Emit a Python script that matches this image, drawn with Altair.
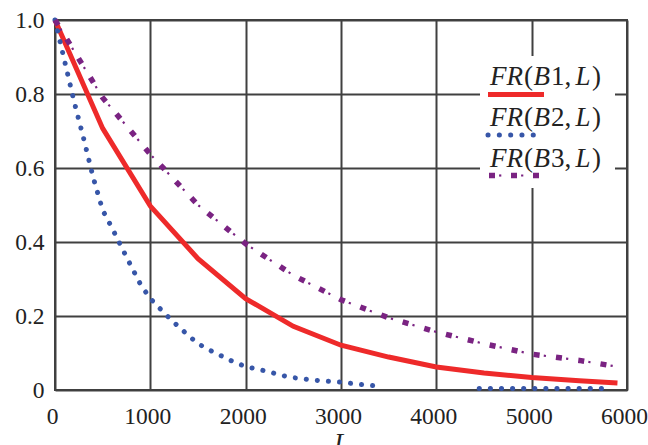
import altair as alt
import pandas as pd

# ---------------- data ----------------
L_B1 = [0, 500, 1000, 1500, 2000, 2500, 3000, 3500, 4000, 4500, 5000, 5500, 5900]
FR_B1 = [1.0, 0.707, 0.497, 0.355, 0.247, 0.172, 0.121, 0.089, 0.062, 0.046, 0.034, 0.025, 0.019]

L_B2_A = [0, 100, 200, 300, 400, 500, 600, 700, 800, 900, 1000, 1150, 1300, 1500,
          1650, 1850, 2000, 2200, 2450, 2700, 3000, 3200, 3420]
FR_B2_A = [1.0, 0.89, 0.78, 0.68, 0.575, 0.486, 0.437, 0.385, 0.334, 0.284, 0.247,
           0.207, 0.17, 0.125, 0.104, 0.079, 0.063, 0.052, 0.035, 0.027, 0.021, 0.015, 0.01]
L_B2_B = [4450, 5750]
FR_B2_B = [0.004, 0.004]

L_B3 = [0, 500, 1000, 1500, 2000, 2500, 3000, 3500, 4000, 4500, 5000, 5500, 5900]
FR_B3 = [1.0, 0.79, 0.637, 0.50, 0.395, 0.31, 0.244, 0.195, 0.157, 0.125, 0.097, 0.08, 0.063]

X_TICKS = [0, 1000, 2000, 3000, 4000, 5000, 6000]
Y_TICKS = [0, 0.2, 0.4, 0.6, 0.8, 1.0]
SERIES_NUM = ["1", "2", "3"]

# ---------------- styling ----------------
FONT = "Liberation Serif"
TXT = "#222222"
GRID = "#404040"
RED = "#EE2A2A"
BLUE = "#3756A8"
PURPLE = "#7A2382"
PAD_L, PAD_T = 55, 20

df1 = pd.DataFrame({"L": L_B1, "FR": FR_B1})
df2 = pd.DataFrame({
    "L": L_B2_A + L_B2_B,
    "FR": FR_B2_A + FR_B2_B,
    "seg": ["a"] * len(L_B2_A) + ["b"] * len(L_B2_B),
})
df3 = pd.DataFrame({"L": L_B3, "FR": FR_B3})

x_enc = alt.X(
    "L:Q",
    scale=alt.Scale(domain=[0, 6000], nice=False),
    axis=alt.Axis(
        values=X_TICKS, format="d", title="L", titleFont=FONT, titleFontSize=26,
        titleFontStyle="italic", titleFontWeight="normal", titleColor=TXT,
        titlePadding=2, labelFont=FONT, labelFontSize=23.5, labelColor=TXT,
        labelPadding=14, labelOffset=-3, ticks=False, tickSize=0, domain=False,
        grid=True, gridColor=GRID, gridWidth=2, gridOpacity=1, labelFlush=False,
    ),
)
y_enc = alt.Y(
    "FR:Q",
    scale=alt.Scale(domain=[0, 1], nice=False),
    axis=alt.Axis(
        values=Y_TICKS, title=None, labelFont=FONT, labelFontSize=23.5,
        labelColor=TXT, labelPadding=11, ticks=False, tickSize=0, domain=False,
        grid=True, gridColor=GRID, gridWidth=2, gridOpacity=1, labelFlush=False,
        labelExpr="datum.value == 0 ? '0' : format(datum.value, '.1f')",
    ),
)

red = alt.Chart(df1).mark_line(color=RED, strokeWidth=5).encode(x=x_enc, y=y_enc)
blue = alt.Chart(df2).mark_line(
    color=BLUE, strokeWidth=5, strokeDash=[0.1, 11], strokeCap="round"
).encode(x="L:Q", y="FR:Q", detail="seg:N")
purple_sq = alt.Chart(df3).mark_line(
    color=PURPLE, strokeWidth=5.5, strokeDash=[6, 16.5]
).encode(x="L:Q", y="FR:Q")
purple_dot = alt.Chart(df3).mark_line(
    color=PURPLE, strokeWidth=2.2, strokeDash=[2.2, 20.3], strokeDashOffset=12.3
).encode(x="L:Q", y="FR:Q")


def px(v):
    return alt.value(v - PAD_L)


def py(v):
    return alt.value(v - PAD_T)


# ---------------- legend (drawn by hand, label above its line sample) ----------------
dummy = pd.DataFrame({"a": [0]})
legend_layers = [
    alt.Chart(dummy).mark_rect(color="white").encode(
        x=px(480), x2=px(615), y=py(56), y2=py(188)
    )
]
baselines = [85, 126, 167]
sym_y = [94.5, 135, 175.5]
seg_x = [490, 524, 533.5, 551, 575.5, 592]
for i, num in enumerate(SERIES_NUM):
    parts = [("FR", "italic"), ("(", "normal"), ("B", "italic"),
             (num + ",", "normal"), ("L", "italic"), (")", "normal")]
    for (txt, style), sx in zip(parts, seg_x):
        legend_layers.append(
            alt.Chart(dummy).mark_text(
                text=txt, font=FONT, fontSize=27, fontStyle=style, color=TXT,
                align="left", baseline="alphabetic",
            ).encode(x=px(sx), y=py(baselines[i]))
        )

legend_layers.append(
    alt.Chart(dummy).mark_rule(color=RED, strokeWidth=5).encode(
        x=px(488), x2=px(544), y=py(sym_y[0]))
)
legend_layers.append(
    alt.Chart(dummy).mark_rule(color=BLUE, strokeWidth=5, strokeDash=[0.1, 11.2],
                               strokeCap="round").encode(
        x=px(488), x2=px(534), y=py(sym_y[1]))
)
legend_layers.append(
    alt.Chart(dummy).mark_rule(color=PURPLE, strokeWidth=5.5, strokeDash=[6, 16]).encode(
        x=px(489), x2=px(539), y=py(sym_y[2]))
)
legend_layers.append(
    alt.Chart(dummy).mark_rule(color=PURPLE, strokeWidth=2.2, strokeDash=[2.2, 19.8],
                               strokeDashOffset=11.9).encode(
        x=px(489), x2=px(539), y=py(sym_y[2]))
)

chart = alt.layer(red, blue, purple_sq, purple_dot, *legend_layers).properties(
    width=572, height=370,
    autosize=alt.AutoSizeParams(type="none"),
    padding={"left": PAD_L, "top": PAD_T, "right": 21, "bottom": 55},
    background="white",
).configure_view(stroke=GRID, strokeWidth=2)

chart.save("out.html", embed_options={"renderer": "svg", "actions": False})
